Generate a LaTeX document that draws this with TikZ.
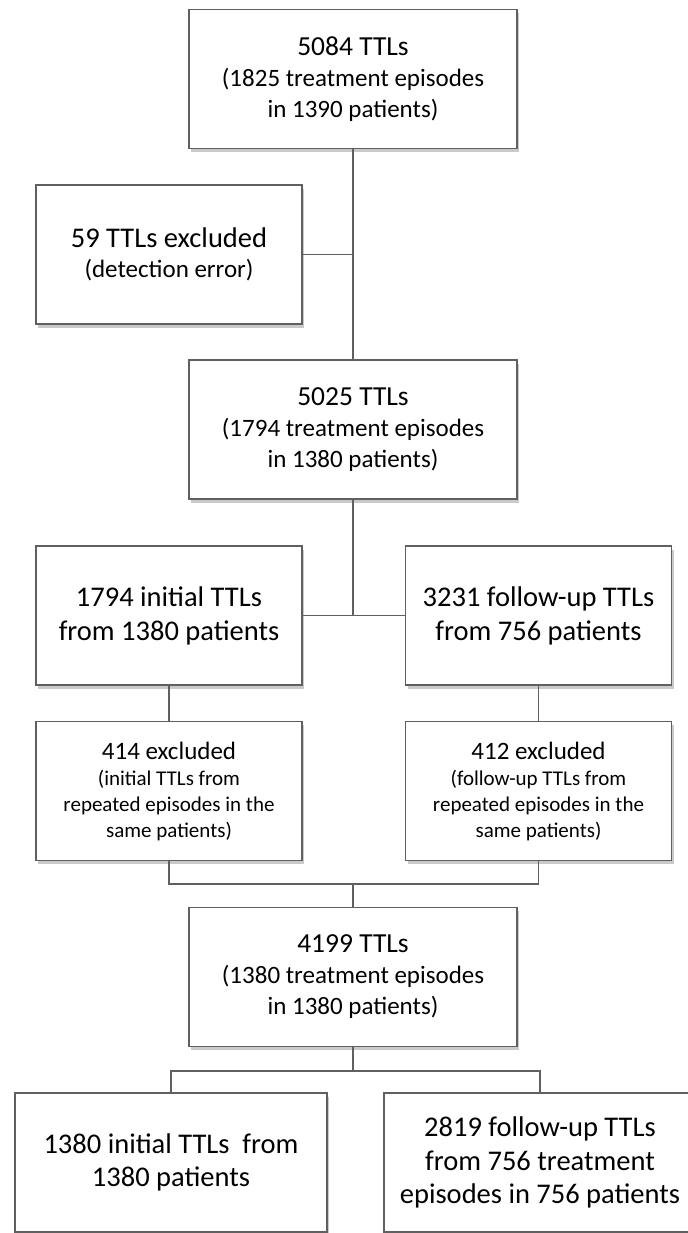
\documentclass[tikz,border=0pt]{standalone}
\usepackage{fontspec}
\setmainfont{Carlito}
\usetikzlibrary{shadows}
\definecolor{linegray}{RGB}{96,96,96}
\tikzset{
  box/.style={draw=linegray, line width=0.8pt, fill=white, align=center, inner sep=0pt,
    minimum height=69.5pt, drop shadow={shadow xshift=1pt, shadow yshift=-1.8pt, opacity=0.35, fill=black!60}},
  mainbox/.style={box, minimum width=164pt, font=\fontsize{12.5}{15.5}\selectfont},
  sidebox/.style={box, minimum width=133pt},
  endbox/.style={box, minimum width=156pt, font=\fontsize{14.25}{16.75}\selectfont},
  link/.style={draw=linegray, line width=0.65pt},
}
\newcommand{\headline}[1]{{\fontsize{13.75}{15.5}\selectfont #1}}
\begin{document}
\begin{tikzpicture}[x=0.5pt, y=-0.5pt]
\useasboundingbox (0,0) rectangle (688,1233);
\node[mainbox] (B_0_0) at (353,79) {\headline{5084 TTLs}\\(1825 treatment episodes\\in 1390 patients)};
\node[sidebox, font=\fontsize{12.5}{15}\selectfont] (B_1_0) at (169,254.5) {{\fontsize{14.25}{15}\selectfont 59 TTLs excluded}\\(detection error)};
\node[mainbox] (B_2_0) at (353,429.5) {\headline{5025 TTLs}\\(1794 treatment episodes\\in 1380 patients)};
\coordinate (J_0) at (B_0_0.south |- B_1_0.east);
\draw[link] (B_0_0) -- (B_2_0);
\draw[link] (B_1_0) -- (J_0);
\node[sidebox, font=\fontsize{14.25}{17}\selectfont] (B_3_0) at (169,615.5) {1794 initial TTLs\\from 1380 patients};
\node[sidebox, font=\fontsize{14.25}{17}\selectfont] (B_3_1) at (538.5,615.5) {3231 follow-up TTLs\\from 756 patients};
\coordinate (J_1) at (B_2_0.south |- B_3_0.east);
\draw[link] (B_2_0) -- (J_1);
\draw[link] (B_3_0) -- (B_3_1);
\node[sidebox, font=\fontsize{10.5}{13}\selectfont] (B_4_0) at (169,791) {{\fontsize{12.5}{13}\selectfont 414 excluded}\\(initial TTLs from\\repeated episodes in the\\same patients)};
\node[sidebox, font=\fontsize{10.5}{13}\selectfont] (B_4_1) at (538.5,791) {{\fontsize{12.5}{13}\selectfont 412 excluded}\\(follow-up TTLs from\\repeated episodes in the\\same patients)};
\draw[link] (B_3_0) -- (B_4_0);
\draw[link] (B_3_1) -- (B_4_1);
\node[mainbox] (B_5_0) at (353,977) {\headline{4199 TTLs}\\(1380 treatment episodes\\in 1380 patients)};
\coordinate (J_2) at (353,884);
\draw[link] (B_4_0) |- (J_2) -| (B_4_1);
\draw[link] (J_2) -- (B_5_0);
\node[endbox] (B_6_0) at (171,1162.5) {1380 initial TTLs\ \ from\\1380 patients};
\node[endbox] (B_6_1) at (540,1162.5) {2819 follow-up TTLs\\from 756 treatment\\episodes in 756 patients};
\coordinate (J_3) at (353,1071);
\draw[link] (B_5_0) -- (J_3);
\draw[link] (B_6_0) |- (J_3) -| (B_6_1);
\end{tikzpicture}
\end{document}
